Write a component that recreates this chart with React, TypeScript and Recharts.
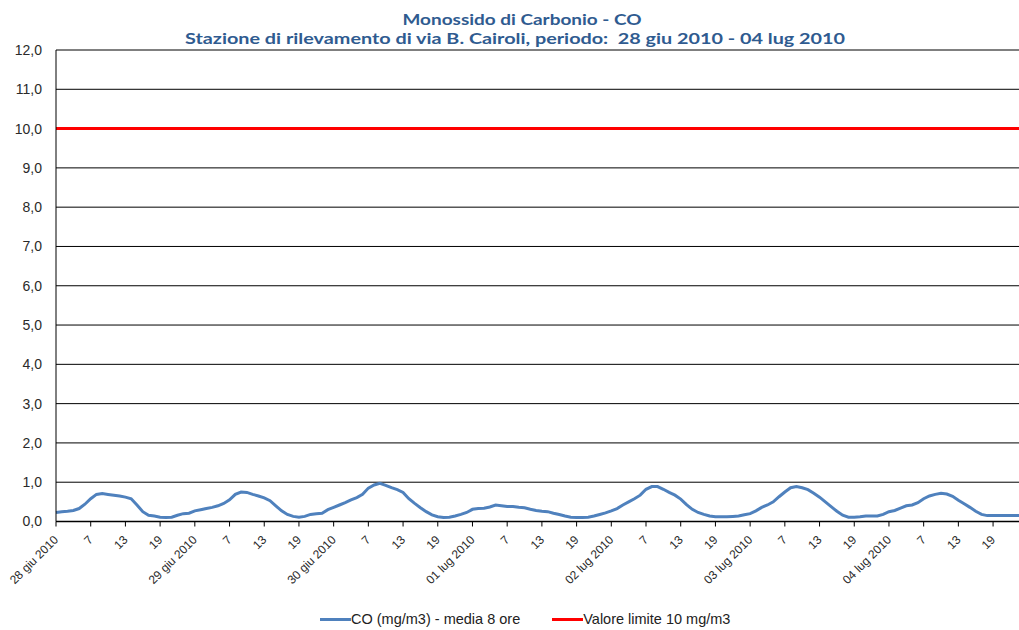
import React from 'react';
import { LineChart, Line, XAxis, YAxis, CartesianGrid, ReferenceLine, Legend } from 'recharts';

const titleLines = ['Monossido di Carbonio - CO', 'Stazione di rilevamento di via B. Cairoli, periodo:  28 giu 2010 - 04 lug 2010'];

const days = ['28 giu 2010', '29 giu 2010', '30 giu 2010', '01 lug 2010', '02 lug 2010', '03 lug 2010', '04 lug 2010'];
const hours = [1, 2, 3, 4, 5, 6, 7, 8, 9, 10, 11, 12, 13, 14, 15, 16, 17, 18, 19, 20, 21, 22, 23, 24];
const tickHours = [1, 7, 13, 19];
const tickLabels = [
  '28 giu 2010', '7', '13', '19',
  '29 giu 2010', '7', '13', '19',
  '30 giu 2010', '7', '13', '19',
  '01 lug 2010', '7', '13', '19',
  '02 lug 2010', '7', '13', '19',
  '03 lug 2010', '7', '13', '19',
  '04 lug 2010', '7', '13', '19',
];

// CO (mg/m3) - media mobile 8 ore, one value per hour
const coDay1 = [0.23, 0.25, 0.26, 0.28, 0.33, 0.44, 0.58, 0.69, 0.71, 0.69, 0.67, 0.65, 0.62, 0.58, 0.42, 0.25, 0.16, 0.14, 0.11, 0.10, 0.11, 0.16, 0.20, 0.21];
const coDay2 = [0.27, 0.30, 0.33, 0.36, 0.40, 0.46, 0.55, 0.69, 0.75, 0.74, 0.69, 0.65, 0.60, 0.53, 0.40, 0.27, 0.18, 0.13, 0.11, 0.13, 0.18, 0.20, 0.21, 0.30];
const coDay3 = [0.36, 0.42, 0.48, 0.55, 0.61, 0.69, 0.85, 0.93, 0.97, 0.92, 0.86, 0.81, 0.74, 0.58, 0.46, 0.35, 0.25, 0.17, 0.12, 0.10, 0.11, 0.14, 0.18, 0.23];
const coDay4 = [0.31, 0.33, 0.34, 0.37, 0.42, 0.40, 0.38, 0.38, 0.36, 0.35, 0.31, 0.28, 0.26, 0.25, 0.21, 0.18, 0.14, 0.11, 0.10, 0.10, 0.11, 0.14, 0.18, 0.22];
const coDay5 = [0.27, 0.33, 0.42, 0.50, 0.58, 0.67, 0.82, 0.89, 0.89, 0.82, 0.74, 0.67, 0.57, 0.43, 0.31, 0.23, 0.18, 0.14, 0.12, 0.12, 0.12, 0.13, 0.14, 0.17];
const coDay6 = [0.20, 0.27, 0.36, 0.42, 0.50, 0.63, 0.75, 0.86, 0.89, 0.86, 0.81, 0.72, 0.62, 0.50, 0.38, 0.26, 0.16, 0.11, 0.11, 0.12, 0.14, 0.14, 0.14, 0.18];
const coDay7 = [0.25, 0.28, 0.34, 0.40, 0.42, 0.48, 0.58, 0.65, 0.69, 0.72, 0.70, 0.64, 0.54, 0.45, 0.36, 0.26, 0.18, 0.15, 0.15, 0.15, 0.15, 0.15, 0.15, 0.15];
const coByDay = [coDay1, coDay2, coDay3, coDay4, coDay5, coDay6, coDay7];

const LIMIT = 10;
const yTicks = [0, 1, 2, 3, 4, 5, 6, 7, 8, 9, 10, 11, 12];

const legendItems = [
  { label: 'CO (mg/m3) - media 8 ore', color: '#4F81BD' },
  { label: 'Valore limite 10 mg/m3', color: '#FF0000' },
];

const data = days.flatMap((d, di) => hours.map((h, hi) => ({ cat: `${d} ${h}`, co: coByDay[di][hi] })));
const tickCats = days.flatMap((d) => tickHours.map((h) => `${d} ${h}`));
const tickLabelMap = new Map(tickCats.map((c, i) => [c, tickLabels[i]]));

const XTick = (props: any) => {
  const { x, y, payload } = props;
  const label = tickLabelMap.get(payload.value) ?? '';
  const tx = x + 3;
  const ty = y + 12;
  return (
    <text x={tx} y={ty} transform={`rotate(-45, ${tx}, ${ty})`} textAnchor="end" fontSize={12} fill="#2a2a2a" fontFamily="'Liberation Sans', Arial, sans-serif">
      {label}
    </text>
  );
};

const LegendContent = () => (
  <div style={{ display: 'flex', alignItems: 'center', fontFamily: "'Liberation Sans', Arial, sans-serif", fontSize: 14.5, color: '#222', whiteSpace: 'nowrap' }}>
    {legendItems.map((it, i) => (
      <div key={i} style={{ display: 'flex', alignItems: 'center', marginRight: i === 0 ? 32 : 0 }}>
        <div style={{ width: 31, height: 3, background: it.color }} />
        <span>{it.label}</span>
      </div>
    ))}
  </div>
);

export default function App() {
  return (
    <div style={{ position: 'absolute', left: 0, top: 0, width: 1019, height: 630, overflow: 'hidden', background: '#fff' }}>
      <svg width={1019} height={50} style={{ position: 'absolute', left: 0, top: 0 }}>
        <text x={522} y={25} textAnchor="middle" fontFamily="Lato, 'Liberation Sans', sans-serif" fontWeight="bold" fontSize={16} fill="#2f5b90" textLength={239} lengthAdjust="spacingAndGlyphs" style={{ whiteSpace: 'pre' }}>
          {titleLines[0]}
        </text>
        <text x={515} y={44} textAnchor="middle" fontFamily="Lato, 'Liberation Sans', sans-serif" fontWeight="bold" fontSize={16} fill="#2f5b90" textLength={660} lengthAdjust="spacingAndGlyphs" style={{ whiteSpace: 'pre' }}>
          {titleLines[1]}
        </text>
      </svg>
      <LineChart width={1022} height={630} data={data} margin={{ top: 50, right: 0, bottom: 24.5, left: 0 }}>
        <CartesianGrid horizontal vertical={false} stroke="#000" strokeWidth={1} />
        <XAxis
          dataKey="cat"
          ticks={tickCats}
          interval={0}
          height={60}
          tickSize={5}
          tickMargin={2}
          axisLine={{ stroke: '#000', strokeWidth: 1.5 }}
          tickLine={{ stroke: '#000' }}
          tick={<XTick />}
        />
        <YAxis
          domain={[0, 12]}
          ticks={yTicks}
          interval={0}
          width={56}
          tickLine={false}
          tickMargin={8}
          axisLine={{ stroke: '#000', strokeWidth: 1 }}
          tickFormatter={(v: number) => v.toFixed(1).replace('.', ',')}
          tick={{ fontSize: 14, fill: '#2a2a2a', fontFamily: "'Liberation Sans', Arial, sans-serif" }}
        />
        <ReferenceLine y={LIMIT} stroke="#FF0000" strokeWidth={3} />
        <Line type="linear" dataKey="co" stroke="#4F81BD" strokeWidth={3} dot={false} isAnimationActive={false} />
        <Legend
          verticalAlign="bottom"
          content={<LegendContent />}
          wrapperStyle={{ position: 'absolute', top: 611, left: 320, width: 460, height: 24, bottom: 'auto' }}
        />
      </LineChart>
    </div>
  );
}
